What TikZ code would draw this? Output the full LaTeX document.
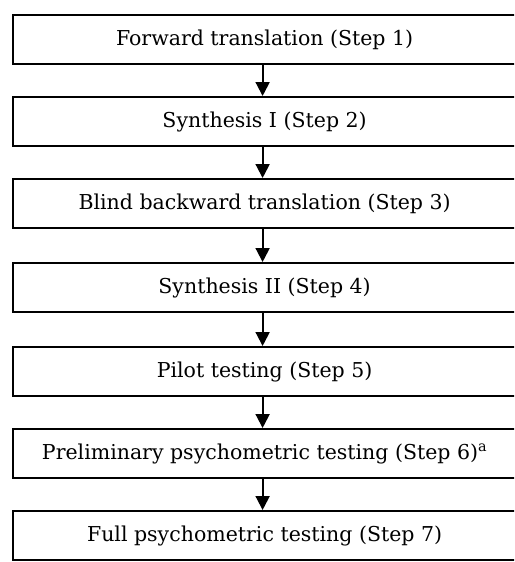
\documentclass[tikz,border=0pt]{standalone}
\usepackage{fontspec}
\setmainfont{DejaVu Serif}
\usetikzlibrary{arrows.meta}
\begin{document}
\begin{tikzpicture}[x=1pt,y=-1pt,
  stepbox/.style={draw=black, line width=2.2pt, minimum width=503pt, minimum height=49pt, anchor=north west, inner sep=0pt, font=\fontsize{20.5}{22}\selectfont},
  conn/.style={line width=2pt, -{Triangle[width=14pt,length=14pt]}}]
\useasboundingbox (0,0) rectangle (514,562);
\begin{scope}
\clip (0,0) rectangle (514,562);
\node[stepbox] (s1) at (12,14) {Forward translation (Step 1)};
\node[stepbox] (s2) at (12,96) {Synthesis I (Step 2)};
\node[stepbox] (s3) at (12,178) {Blind backward translation (Step 3)};
\node[stepbox] (s4) at (12,262) {Synthesis II (Step 4)};
\node[stepbox] (s5) at (12,346) {Pilot testing (Step 5)};
\node[stepbox] (s6) at (12,428) {Preliminary psychometric testing (Step 6)\textsuperscript{a}};
\node[stepbox] (s7) at (12,510) {Full psychometric testing (Step 7)};
\end{scope}
\foreach \a/\b in {s1/s2,s2/s3,s3/s4,s4/s5,s5/s6,s6/s7}
  \draw[conn] ([xshift=-2pt]\a.south) -- ([xshift=-2pt]\b.north);
\end{tikzpicture}
\end{document}
